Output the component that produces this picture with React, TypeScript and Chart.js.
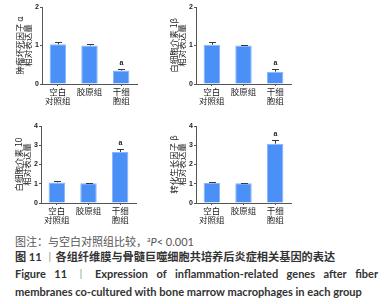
import React, { useEffect, useRef } from "react";
import { Chart, registerables } from "chart.js";

Chart.register(...registerables);

// ---- data ----
const categories: (string | string[])[] = [["空白", "对照组"], "胶原组", ["干细", "胞组"]];
const sigMarks = ["", "", "a"];

const tnfTitle = ["肿瘤坏死因子 α", "相对表达量"];
const tnfValues = [1.03, 1.0, 0.35];
const tnfErrors = [0.05, 0.05, 0.04];

const il1bTitle = ["白细胞介素 1β", "相对表达量"];
const il1bValues = [1.02, 1.0, 0.32];
const il1bErrors = [0.06, 0.02, 0.07];

const il10Title = ["白细胞介素 10", "相对表达量"];
const il10Values = [1.07, 1.02, 2.65];
const il10Errors = [0.08, 0.02, 0.14];

const tgfbTitle = ["转化生长因子 β", "相对表达量"];
const tgfbValues = [1.04, 1.03, 3.08];
const tgfbErrors = [0.07, 0.02, 0.17];

const smallMax = 2;
const largeMax = 4;

const CJK = '"Noto Sans CJK SC", "Noto Sans", sans-serif';

const errorBarPlugin = {
  id: "errorBars",
  afterDatasetsDraw(chart: any, _args: any, opts: any) {
    const { ctx } = chart;
    const meta = chart.getDatasetMeta(0);
    const yScale = chart.scales.y;
    const ds = chart.data.datasets[0];
    const errs: number[] = opts.errors || [];
    const marks: string[] = opts.marks || [];
    ctx.save();
    meta.data.forEach((bar: any, i: number) => {
      const v = ds.data[i] as number;
      const x = Math.round(bar.x) + 0.5;
      const base = yScale.getPixelForValue(v);
      const top = Math.round(yScale.getPixelForValue(v + errs[i])) + 0.5;
      ctx.strokeStyle = "#3a3a3a";
      ctx.lineWidth = 1;
      ctx.beginPath();
      ctx.moveTo(x, base);
      ctx.lineTo(x, top);
      ctx.moveTo(x - 3.5, top);
      ctx.lineTo(x + 3.5, top);
      ctx.stroke();
      if (marks[i]) {
        ctx.fillStyle = "#222";
        ctx.font = 'bold 7px "Liberation Sans", Arial, sans-serif';
        ctx.textAlign = "center";
        ctx.textBaseline = "bottom";
        ctx.fillText(marks[i], x, top - 3);
      }
    });
    ctx.restore();
  },
};

type PanelProps = {
  left: number;
  top: number;
  title: string[];
  values: number[];
  errors: number[];
  max: number;
};

const W = 140;
const H = 108;

function Panel({ left, top, title, values, errors, max }: PanelProps) {
  const ref = useRef<HTMLCanvasElement | null>(null);
  useEffect(() => {
    if (!ref.current) return;
    const chart = new Chart(ref.current, {
      type: "bar",
      data: {
        labels: categories,
        datasets: [
          {
            data: values,
            backgroundColor: "#4a90f7",
            borderColor: "#86b6fb",
            borderWidth: 1,
            barPercentage: 0.52,
            categoryPercentage: 1,
          },
        ],
      },
      options: {
        responsive: false,
        devicePixelRatio: 1,
        animation: false,
        layout: { padding: { top: 7, right: 3, left: 0, bottom: 0 } },
        plugins: {
          legend: { display: false },
          tooltip: { enabled: false },
          errorBars: { errors, marks: sigMarks },
        } as any,
        scales: {
          x: {
            grid: { drawOnChartArea: false, drawTicks: true, tickLength: 2, color: "#555", offset: false },
            border: { color: "#555", width: 1 },
            ticks: {
              color: "#222",
              font: { family: CJK, size: 8.5, lineHeight: 1.05 },
              padding: 1,
              maxRotation: 0,
              autoSkip: false,
            },
            afterFit: (s: any) => {
              s.height = H - 84;
            },
          },
          y: {
            min: 0,
            max,
            ticks: {
              stepSize: 1,
              color: "#222",
              font: { family: '"Liberation Sans", Arial, sans-serif', size: 7, weight: "bold" },
              padding: 1,
            },
            grid: { drawOnChartArea: false, tickLength: 2, color: "#555" },
            border: { color: "#555", width: 1 },
            title: {
              display: true,
              text: title,
              color: "#222",
              font: { family: CJK, size: 8.5, lineHeight: 1 },
              padding: { top: 15.5, bottom: 0 },
            },
            afterFit: (s: any) => {
              s.width = 42;
            },
          },
        },
      },
      plugins: [errorBarPlugin],
    } as any);
    return () => chart.destroy();
  }, []);
  return (
    <canvas
      ref={ref}
      width={W}
      height={H}
      style={{ position: "absolute", left, top, width: W, height: H }}
    />
  );
}

export default function App() {
  const latin = '"Lato", "Open Sans", sans-serif';
  return (
    <div
      style={{
        position: "absolute",
        left: 0,
        top: 0,
        width: 386,
        height: 304,
        background: "#fff",
        overflow: "hidden",
      }}
    >
      <Panel left={0} top={0} title={tnfTitle} values={tnfValues} errors={tnfErrors} max={smallMax} />
      <Panel left={154} top={0} title={il1bTitle} values={il1bValues} errors={il1bErrors} max={smallMax} />
      <Panel left={-1} top={119} title={il10Title} values={il10Values} errors={il10Errors} max={largeMax} />
      <Panel left={154} top={119} title={tgfbTitle} values={tgfbValues} errors={tgfbErrors} max={largeMax} />

      <div
        style={{
          position: "absolute",
          left: 15,
          top: 234,
          fontFamily: CJK,
          fontSize: 11,
          lineHeight: "14px",
          color: "#555",
          whiteSpace: "nowrap",
        }}
      >
        图注：与空白对照组比较，
        <span style={{ fontFamily: latin }}>
          <sup style={{ fontSize: 7, verticalAlign: "4px", lineHeight: 0 }}>a</sup>
          <i>P</i>&lt; 0.001
        </span>
      </div>
      <div
        style={{
          position: "absolute",
          left: 15,
          top: 249,
          fontFamily: CJK,
          fontSize: 11.2,
          lineHeight: "15px",
          color: "#333",
          fontWeight: 700,
          whiteSpace: "nowrap",
        }}
      >
        图 <span style={{ fontFamily: latin }}>11</span>{" "}
        <span style={{ fontWeight: 300, color: "#666" }}>丨</span>各组纤维膜与骨髓巨噬细胞共培养后炎症相关基因的表达
      </div>
      <div
        style={{
          position: "absolute",
          left: 15,
          top: 266,
          width: 363,
          fontFamily: latin,
          fontSize: 11,
          lineHeight: "15px",
          color: "#333",
          fontWeight: 700,
          whiteSpace: "nowrap",
          display: "flex",
          justifyContent: "space-between",
        }}
      >
        {["Figure", "11", "丨", "Expression", "of", "inflammation-related", "genes", "after", "fiber"].map((w, i) => (
          <span key={i} style={w === "丨" ? { fontFamily: CJK, fontWeight: 300, color: "#666" } : undefined}>
            {w}
          </span>
        ))}
      </div>
      <div
        style={{
          position: "absolute",
          left: 15,
          top: 284,
          fontFamily: latin,
          fontSize: 11.1,
          lineHeight: "15px",
          color: "#333",
          fontWeight: 700,
          whiteSpace: "nowrap",
        }}
      >
        membranes co-cultured with bone marrow macrophages in each group
      </div>
    </div>
  );
}
